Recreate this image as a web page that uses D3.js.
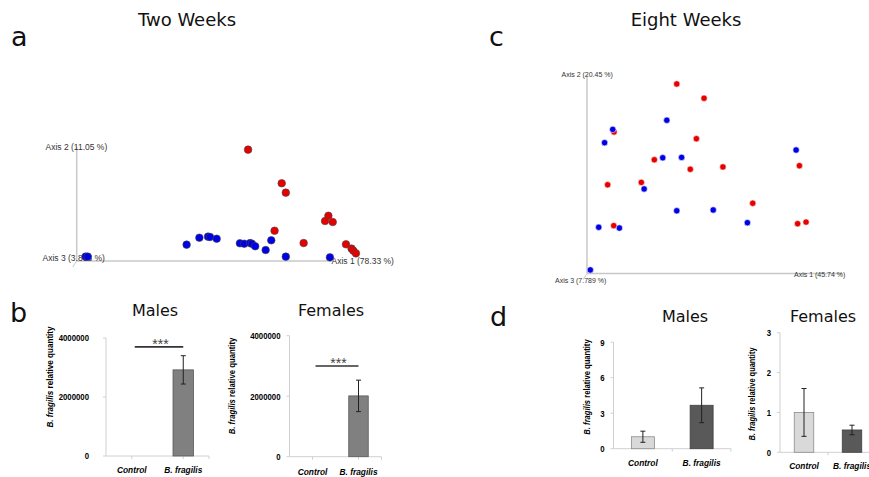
<!DOCTYPE html>
<html>
<head>
<meta charset="utf-8">
<script src="https://cdn.jsdelivr.net/npm/d3@7"></script>
<style>
  html, body { margin: 0; background: #fff; }
  svg { display: block; }
  .title { font-family: "DejaVu Sans", Verdana, sans-serif; fill: #111; }
  .tick-lbl { font-family: "Liberation Sans", Arial, sans-serif; font-weight: bold; fill: #000; }
  .axis-lbl { font-family: "Liberation Sans", Arial, sans-serif; fill: #333; }
</style>
</head>
<body>
<svg id="chart" width="869" height="477"></svg>
<script>
// PCoA scores, as fraction of drawn axis 1 / axis 2 length
var twoWeeksRed = [
  [0.672, 0.974], [0.804, 0.680], [0.820, 0.598], [0.987, 0.396], [0.974, 0.350],
  [1.004, 0.341], [0.776, 0.265], [0.890, 0.157], [1.056, 0.146], [1.078, 0.108],
  [1.085, 0.090], [1.095, 0.067]
];
var twoWeeksBlue = [
  [0.035, 0.038], [0.043, 0.038], [0.431, 0.143], [0.481, 0.204], [0.515, 0.213],
  [0.523, 0.210], [0.549, 0.195], [0.640, 0.155], [0.657, 0.151], [0.680, 0.157],
  [0.687, 0.151], [0.700, 0.129], [0.741, 0.096], [0.763, 0.181], [0.820, 0.038],
  [0.993, 0.032]
];
var eightWeeksRed = [
  [0.352, 0.955], [0.459, 0.883], [0.106, 0.713], [0.429, 0.679], [0.264, 0.573],
  [0.405, 0.525], [0.533, 0.537], [0.833, 0.543], [0.081, 0.447], [0.213, 0.459],
  [0.650, 0.354], [0.105, 0.241], [0.826, 0.251], [0.859, 0.259]
];
var eightWeeksBlue = [
  [0.313, 0.772], [0.101, 0.726], [0.069, 0.659], [0.297, 0.583], [0.371, 0.585],
  [0.820, 0.622], [0.224, 0.426], [0.352, 0.316], [0.495, 0.320], [0.629, 0.256],
  [0.046, 0.233], [0.127, 0.229], [0.013, 0.018]
];
var twoWeeksAxes = ["Axis 1 (78.33 %)", "Axis 2 (11.05 %)", "Axis 3 (3.868 %)"];
var eightWeeksAxes = ["Axis 1 (45.74 %)", "Axis 2 (20.45 %)", "Axis 3 (7.789 %)"];

// qPCR bars
var groups = ["Control", "B. fragilis"];
var b_males = [0, 2920000], b_malesErr = [0, 480000];
var b_females = [0, 2010000], b_femalesErr = [0, 520000];
var b_ticks = [0, 2000000, 4000000];
var d_males = [1.01, 3.67], d_malesErr = [0.47, 1.47];
var d_females = [1.0, 0.56], d_femalesErr = [0.6, 0.12];
var d_malesTicks = [0, 3, 6, 9];
var d_femalesTicks = [0, 1, 2, 3];

var svg = d3.select("#chart");

// panel letters & titles
function txt(x, y, s, size, anchor) {
  svg.append("text").attr("class", "title").attr("x", x).attr("y", y)
    .attr("font-size", size).attr("text-anchor", anchor || "middle").text(s);
}
txt(11, 46, "a", 27, "start");
txt(489, 46, "c", 27, "start");
txt(10, 322, "b", 27, "start");
txt(490, 326, "d", 27, "start");
txt(187, 26, "Two Weeks", 18);
txt(686, 26, "Eight Weeks", 18);
txt(155, 316, "Males", 16);
txt(331, 316, "Females", 16);
txt(685, 322, "Males", 16);
txt(823, 322, "Females", 16);

function pcoa(o) {
  var x = d3.scaleLinear().domain([0, 1]).range([o.x0, o.x1]);
  var y = d3.scaleLinear().domain([0, 1]).range([o.y0, o.y1]);
  var g = svg.append("g");
  g.append("line").attr("x1", x(0)).attr("x2", x(0)).attr("y1", y(0)).attr("y2", y(1))
    .attr("stroke", "#c8c8c8").attr("stroke-width", 1.5);
  g.append("line").attr("x1", x(0)).attr("x2", x(1)).attr("y1", y(0)).attr("y2", y(0))
    .attr("stroke", "#c8c8c8").attr("stroke-width", 1.5);
  g.append("line").attr("x1", x(0)).attr("x2", x(0) - 4).attr("y1", y(0)).attr("y2", y(0) + 6)
    .attr("stroke", "#c8c8c8").attr("stroke-width", 1);
  g.append("text").attr("class", "axis-lbl").attr("font-size", o.fs)
    .attr("x", o.l1[0]).attr("y", o.l1[1]).text(o.labels[0]);
  g.append("text").attr("class", "axis-lbl").attr("font-size", o.fs)
    .attr("x", o.l2[0]).attr("y", o.l2[1]).text(o.labels[1]);
  g.append("text").attr("class", "axis-lbl").attr("font-size", o.fs)
    .attr("x", o.l3[0]).attr("y", o.l3[1]).text(o.labels[2]);
  [[o.red, "#e60000"], [o.blue, "#0000e6"]].forEach(function(s) {
    g.selectAll(null).data(s[0]).enter().append("circle")
      .attr("cx", function(d) { return x(d[0]); })
      .attr("cy", function(d) { return y(d[1]); })
      .attr("r", o.r).attr("fill", s[1])
      .attr("stroke", o.stroke).attr("stroke-width", 0.6);
  });
}

pcoa({ x0: 76.7, x1: 331.7, y0: 261, y1: 146.7, r: 3.8, stroke: "#444", fs: 8.5,
  red: twoWeeksRed, blue: twoWeeksBlue, labels: twoWeeksAxes,
  l1: [331.5, 264], l2: [45.5, 150], l3: [42.5, 260.5] });
pcoa({ x0: 587, x1: 842, y0: 273.5, y1: 75, r: 3.2, stroke: "#fff", fs: 7,
  red: eightWeeksRed, blue: eightWeeksBlue, labels: eightWeeksAxes,
  l1: [794, 276.5], l2: [561.5, 76.5], l3: [555, 283] });

// narrow bold text (Calibri-like width)
function ntext(g, x, y, s, opt) {
  opt = opt || {};
  var t = g.append("text").attr("class", "tick-lbl")
    .attr("transform", "translate(" + x + "," + y + ")" + (opt.rot ? " rotate(-90)" : "") +
      " scale(" + (opt.sx || 0.85) + ",1)")
    .attr("text-anchor", opt.anchor || "middle").attr("dy", opt.dy || 0)
    .attr("font-size", opt.size || 9);
  if (opt.italic) t.attr("font-style", "italic");
  t.text(s);
  return t;
}

function bars(o) {
  var g = svg.append("g");
  var x = d3.scaleBand().domain(groups).range([o.x0, o.x1]);
  var y = d3.scaleLinear().domain([0, o.max]).range([o.yb, o.yt]);
  var mid = function(c) { return x(c) + x.bandwidth() / 2; };
  // axes
  g.append("line").attr("x1", o.x0).attr("x2", o.x0).attr("y1", y(0)).attr("y2", y(o.max))
    .attr("stroke", "#d0d0d0");
  g.append("line").attr("x1", o.x0).attr("x2", o.x1).attr("y1", y(0)).attr("y2", y(0))
    .attr("stroke", "#d0d0d0");
  g.selectAll(null).data(o.ticks).enter().append("line")
    .attr("x1", o.x0 - 3).attr("x2", o.x0).attr("y1", function(d) { return y(d); })
    .attr("y2", function(d) { return y(d); }).attr("stroke", "#d0d0d0");
  var xt = o.xTicks === "center" ? groups.map(mid).concat([o.x1]) : [x(groups[1]), o.x1];
  g.selectAll(null).data(xt).enter().append("line")
    .attr("x1", function(d) { return d; }).attr("x2", function(d) { return d; })
    .attr("y1", y(0)).attr("y2", y(0) + 3).attr("stroke", "#d0d0d0");
  o.ticks.forEach(function(d) {
    ntext(g, o.x0 - o.gap, y(d), d, { anchor: "end", dy: "0.35em", size: 9.5, sx: 0.82 });
  });
  groups.forEach(function(c) {
    ntext(g, mid(c), o.catY, c, { italic: true, size: 9.5, sx: 0.88 });
  });
  var yl = ntext(g, o.ylx, o.yly, "", { rot: true, dy: "0.35em", size: 9.2, sx: o.ysx });
  yl.append("tspan").attr("font-style", "italic").text("B. fragilis");
  yl.append("tspan").text(" relative quantity");
  // bars
  g.selectAll(null).data(groups.filter(function(c, i) { return o.values[i] > 0; }))
    .enter().append("rect")
    .attr("x", function(c) { return mid(c) - o.bw / 2; })
    .attr("y", function(c) { return y(o.values[groups.indexOf(c)]); })
    .attr("width", o.bw)
    .attr("height", function(c) { return y(0) - y(o.values[groups.indexOf(c)]); })
    .attr("fill", function(c) { return o.fills[groups.indexOf(c)]; })
    .attr("stroke", function(c) { return o.strokes[groups.indexOf(c)]; })
    .attr("stroke-width", 0.8);
  // error bars
  o.values.forEach(function(v, i) {
    var e = o.errs[i];
    if (!e) return;
    var cx = mid(groups[i]);
    g.append("line").attr("x1", cx).attr("x2", cx).attr("y1", y(v + e)).attr("y2", y(v - e))
      .attr("stroke", "#222").attr("stroke-width", 1);
    [v + e, v - e].forEach(function(t) {
      g.append("line").attr("x1", cx - 2.5).attr("x2", cx + 2.5).attr("y1", y(t)).attr("y2", y(t))
        .attr("stroke", "#222").attr("stroke-width", 1);
    });
  });
  if (o.sig) {
    var c0 = mid(groups[0]), c1 = mid(groups[1]);
    g.append("line").attr("x1", c0 + 3).attr("x2", c1).attr("y1", y(o.sig)).attr("y2", y(o.sig))
      .attr("stroke", "#333").attr("stroke-width", 1.6);
    g.append("text").attr("font-family", "Liberation Sans, Arial, sans-serif")
      .attr("font-size", 14).attr("x", (c0 + c1) / 2 + 3).attr("y", y(o.sig) + 2)
      .attr("text-anchor", "middle").attr("fill", "#444").text("***");
  }
}

var gray = "#808080", grayS = "#595959";
bars({ x0: 106, x1: 209, yb: 456, yt: 338, max: 4000000, ticks: b_ticks,
  values: b_males, errs: b_malesErr, fills: [gray, gray], strokes: [grayS, grayS],
  bw: 20.5, gap: 17, catY: 473, ylx: 50, yly: 377, ysx: 0.88, sig: 3700000, xTicks: "center" });
bars({ x0: 289.5, x1: 381.5, yb: 456.7, yt: 335.7, max: 4000000, ticks: b_ticks,
  values: b_females, errs: b_femalesErr, fills: [gray, gray], strokes: [grayS, grayS],
  bw: 19.5, gap: 9, catY: 475, ylx: 231.5, yly: 386, ysx: 0.84, sig: 3000000, xTicks: "center" });
bars({ x0: 613.5, x1: 731, yb: 448.7, yt: 342.2, max: 9, ticks: d_malesTicks,
  values: d_males, errs: d_malesErr, fills: ["#d9d9d9", "#595959"], strokes: ["#8c8c8c", "#404040"],
  bw: 23, gap: 9, catY: 466, ylx: 586.5, yly: 387, ysx: 0.83 });
bars({ x0: 780, x1: 876, yb: 452.3, yt: 332.7, max: 3, ticks: d_femalesTicks,
  values: d_females, errs: d_femalesErr, fills: ["#d9d9d9", "#595959"], strokes: ["#8c8c8c", "#404040"],
  bw: 19.5, gap: 9, catY: 469, ylx: 751.5, yly: 394, ysx: 0.81 });
</script>
</body>
</html>
